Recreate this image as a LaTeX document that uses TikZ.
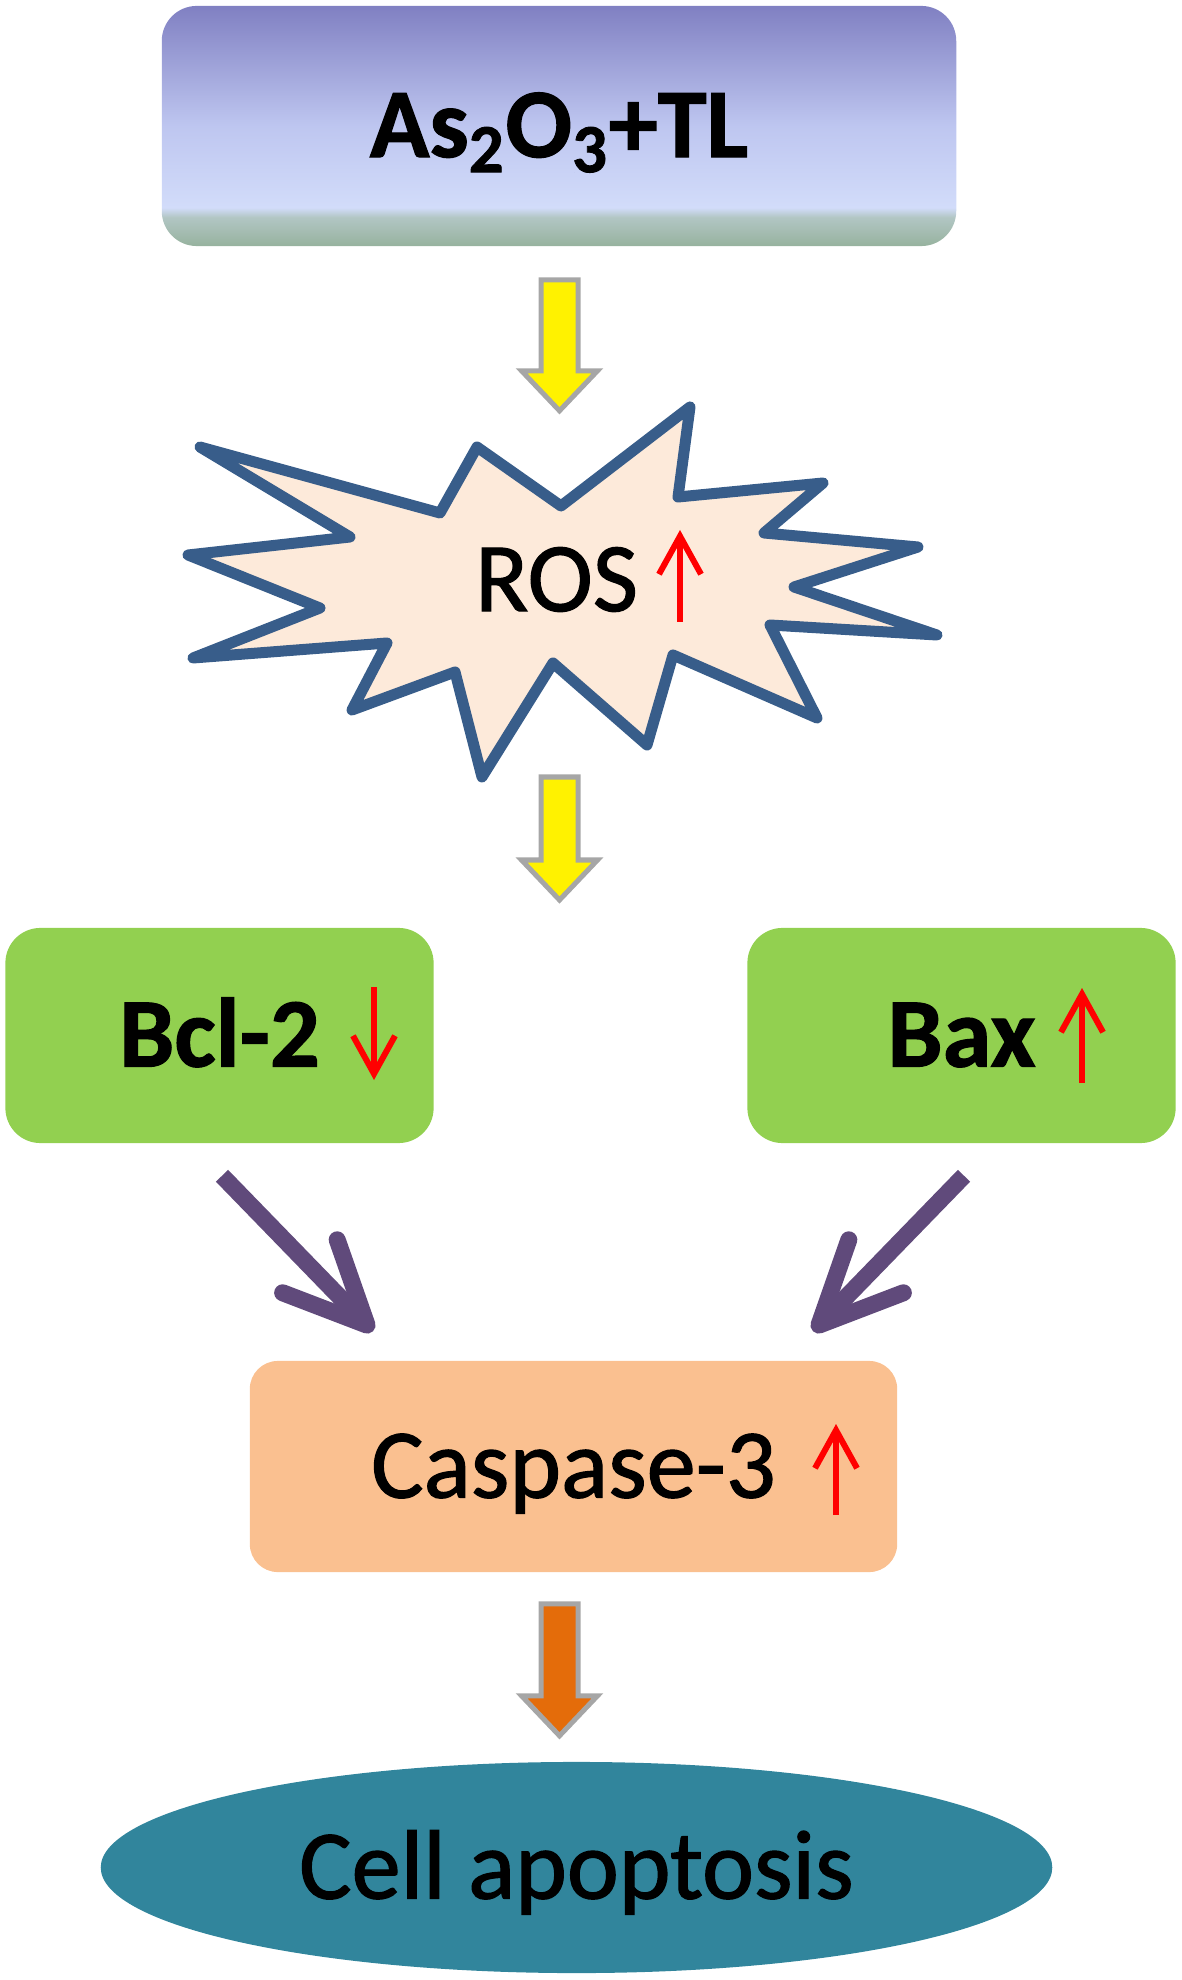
\documentclass[tikz,border=0pt]{standalone}
\usepackage{fontspec}
\setmainfont{Carlito}
\newfontfamily\heavyfont[FakeBold=1.2]{Carlito}
\usetikzlibrary{arrows.meta, shapes.geometric, calc}

\definecolor{drugtop}{RGB}{128,128,194}
\definecolor{drugmid}{RGB}{190,198,240}
\definecolor{druglight}{RGB}{210,220,250}
\definecolor{drugband}{RGB}{178,198,196}
\definecolor{drugbot}{RGB}{150,178,158}
\definecolor{burstline}{RGB}{56,93,138}
\definecolor{burstfill}{RGB}{253,234,218}
\definecolor{boxgreen}{RGB}{146,208,80}
\definecolor{caspfill}{RGB}{250,192,144}
\definecolor{apopfill}{RGB}{49,133,156}
\definecolor{pushpurple}{RGB}{96,74,123}
\definecolor{arrowgray}{RGB}{166,166,166}
\definecolor{arroworange}{RGB}{228,108,10}

\pgfdeclareverticalshading{drugshade}{100bp}{color(0bp)=(drugbot); color(25bp)=(drugbot);
  color(31bp)=(drugband); color(33bp)=(druglight); color(50bp)=(drugmid);
  color(75bp)=(drugtop); color(100bp)=(drugtop)}

% block arrow pointing down: style, top centre, shaft length
\newcommand{\blockarrow}[3]{%
  \draw[#1] (#2) ++(-18.5,0) -- ++(37,0) -- ++(0,#3) -- ++(19.5,0)
    -- ++(-38,40) -- ++(-38,-40) -- ++(19.5,0) -- cycle;}

\begin{document}
\begin{tikzpicture}[
  x=0.01cm, y=-0.01cm,
  lbl/.style={font=\heavyfont\fontsize{28}{34}\selectfont, text height=17.7pt, text depth=0pt, inner sep=0pt},
  drugbox/.style={lbl, rectangle, rounded corners=0.35cm, shade, shading=drugshade,
                  minimum width=7.94cm, minimum height=2.40cm},
  greenbox/.style={lbl, rectangle, rounded corners=0.35cm, fill=boxgreen,
                   minimum width=4.28cm, minimum height=2.15cm},
  caspbox/.style={lbl, rectangle, rounded corners=0.28cm, fill=caspfill,
                  minimum width=6.47cm, minimum height=2.11cm},
  apopnode/.style={lbl, ellipse, fill=apopfill, minimum width=9.51cm, minimum height=2.11cm},
  burst/.style={draw=burstline, fill=burstfill, line width=0.11cm, line join=round},
  yarrow/.style={fill=yellow, draw=arrowgray, line width=0.05cm},
  oarrow/.style={yarrow, fill=arroworange},
  push/.style={draw=pushpurple, line width=0.17cm, -{Straight Barb[length=0.82cm, width=0.76cm, round]}},
  redmark/.style={draw=red, line width=0.06cm, -{Straight Barb[length=0.38cm, width=0.42cm]}}
]
\useasboundingbox (0,0) rectangle (1181,1980);

\node[drugbox] (drug) at (559,126) {\bfseries As\textsubscript{2}O\textsubscript{3}+TL};

% ROS burst
\draw[burst] (200,447) -- (440,513) -- (477,447) -- (561,506) -- (690,407) -- (678,497)
  -- (823,483) -- (764,533) -- (918,547) -- (794,587) -- (937,635) -- (770,625)
  -- (817,718) -- (673,655) -- (647,745) -- (553,663) -- (482,777) -- (455,672)
  -- (352,710) -- (387,643) -- (193,658) -- (320,608) -- (188,555) -- (350,537) -- cycle;
\coordinate (burst) at (556.5,580);
\node[lbl] (ros) at (burst) {ROS};

\node[greenbox] (bcl) at (219.5,1035.5) {\bfseries Bcl-2};
\node[greenbox] (bax) at (961.5,1035.5) {\bfseries Bax};
\node[caspbox] (casp) at (573.5,1466.5) {Caspase-3};
\node[apopnode] (apop) at (576.5,1867.5) {Cell apoptosis};

% up / down marks
\draw[redmark] ($(ros)+(123.5,42)$) -- ($(ros)+(123.5,-50)$);
\draw[redmark] ($(bcl.center)+(154.5,-48.5)$) -- ($(bcl.center)+(154.5,44.5)$);
\draw[redmark] ($(bax.center)+(120.5,47.5)$) -- ($(bax.center)+(120.5,-47.5)$);
\draw[redmark] ($(casp.center)+(262.5,48.5)$) -- ($(casp.center)+(262.5,-42.5)$);

% flow arrows
\blockarrow{yarrow}{$(drug.south)+(0.5,33)$}{91}
\blockarrow{yarrow}{$(burst)+(3,197)$}{83}
\draw[push] ($(bcl.south)+(2.5,32)$) -- ($(casp.north)+(-200.5,-29)$);
\draw[push] ($(bax.south)+(2.5,32)$) -- ($(casp.north)+(239.5,-29)$);
\blockarrow{oarrow}{$(casp.south)+(-14,31)$}{92}
\end{tikzpicture}
\end{document}
